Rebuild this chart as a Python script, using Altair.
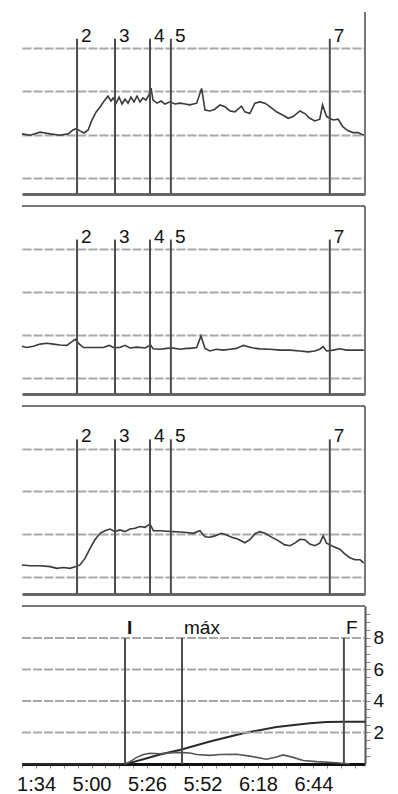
import altair as alt
import pandas as pd

FONT = "Liberation Sans"

# ---------------- data (time in seconds) ----------------
# panel 1 trace
p1_t = [267.4, 271.2, 275.9, 278.2, 280.6, 285.2, 289.0, 291.3, 292.8, 294.6,
        296.5, 298.4, 300.2, 302.1, 304.0, 305.9, 307.7, 309.1, 310.1, 311.5,
        312.9, 314.3, 315.7, 317.1, 318.5, 319.9, 321.3, 322.7, 324.1, 325.5,
        326.9, 327.9, 328.8, 330.7, 332.6, 334.4, 336.8, 339.1, 341.5, 343.8,
        346.1, 349.3, 351.6, 353.2, 355.5, 357.8, 360.2, 362.5, 364.9, 367.2,
        370.3, 371.9, 374.2, 376.6, 378.9, 381.3, 383.6, 386.7, 389.8, 392.2,
        394.5, 397.7, 400.0, 402.3, 404.7, 407.0, 408.3, 410.2, 413.3, 415.6,
        417.9, 420.3, 422.6, 424.9, 427.6]
p1_v = [1.02, 0.99, 1.06, 1.04, 1.02, 0.99, 1.02, 1.11, 1.14, 1.09,
        1.04, 1.11, 1.34, 1.52, 1.64, 1.78, 1.89, 1.78, 1.85, 1.73,
        1.87, 1.71, 1.82, 1.73, 1.87, 1.76, 1.89, 1.76, 1.85, 1.80,
        1.92, 2.08, 1.80, 1.73, 1.78, 1.71, 1.76, 1.71, 1.73, 1.71,
        1.69, 1.73, 2.07, 1.57, 1.55, 1.59, 1.69, 1.65, 1.55, 1.53,
        1.66, 1.53, 1.49, 1.73, 1.76, 1.73, 1.65, 1.53, 1.45, 1.38,
        1.42, 1.55, 1.49, 1.38, 1.32, 1.36, 1.69, 1.42, 1.34, 1.36,
        1.18, 1.09, 1.05, 1.05, 0.99]

# panel 2 trace
p2_t = [267.4, 269.6, 272.7, 275.9, 279.0, 282.1, 285.2, 288.4, 290.7, 292.3,
        294.3, 296.2, 300.8, 305.5, 308.3, 310.2, 313.3, 315.7, 318.0, 321.3,
        325.1, 327.7, 328.9, 332.1, 335.2, 338.3, 341.5, 344.6, 346.1, 349.3,
        351.3, 353.2, 355.5, 358.6, 361.7, 364.9, 368.0, 371.1, 373.4, 375.8,
        378.9, 383.6, 388.3, 393.0, 397.7, 401.5, 404.7, 407.0, 408.6, 410.2,
        413.3, 416.4, 419.5, 422.6, 427.6]
p2_v = [0.74, 0.71, 0.74, 0.79, 0.81, 0.79, 0.77, 0.76, 0.84, 0.90,
        0.79, 0.71, 0.71, 0.71, 0.76, 0.71, 0.71, 0.76, 0.70, 0.72,
        0.70, 0.77, 0.68, 0.67, 0.69, 0.70, 0.67, 0.69, 0.69, 0.71,
        0.98, 0.69, 0.63, 0.67, 0.65, 0.67, 0.69, 0.76, 0.73, 0.70,
        0.68, 0.67, 0.65, 0.65, 0.63, 0.61, 0.63, 0.67, 0.73, 0.63,
        0.65, 0.68, 0.65, 0.65, 0.65]

# panel 3 trace
p3_t = [267.4, 271.2, 275.9, 280.6, 283.7, 286.8, 289.9, 292.3, 294.6, 297.0,
        299.3, 301.6, 304.0, 306.3, 308.7, 311.0, 313.3, 315.7, 318.0, 320.4,
        322.7, 325.1, 327.4, 329.0, 332.1, 335.2, 338.3, 341.5, 344.6, 347.7,
        350.8, 353.2, 355.5, 357.8, 361.0, 363.3, 365.7, 368.8, 371.9, 374.2,
        376.6, 378.9, 381.3, 384.4, 387.5, 390.6, 393.0, 395.3, 397.7, 400.0,
        402.3, 404.7, 407.0, 408.6, 410.2, 413.3, 416.4, 418.7, 421.1, 423.5,
        425.9, 427.6]
p3_v = [0.28, 0.26, 0.26, 0.24, 0.20, 0.22, 0.20, 0.24, 0.28, 0.44,
        0.67, 0.87, 1.02, 1.08, 1.12, 1.06, 1.10, 1.06, 1.12, 1.14,
        1.18, 1.16, 1.24, 1.08, 1.08, 1.07, 1.06, 1.05, 1.04, 1.02,
        1.08, 0.94, 0.93, 0.96, 1.02, 0.98, 0.93, 0.88, 0.80, 0.87,
        1.01, 1.06, 1.02, 0.93, 0.85, 0.75, 0.73, 0.79, 0.88, 0.87,
        0.77, 0.73, 0.79, 0.96, 0.79, 0.71, 0.65, 0.54, 0.45, 0.40,
        0.40, 0.33]

# panel 4: cumulative curve and rate curve
cum_t = [267.4, 315.7, 318.0, 324.3, 332.1, 342.2, 355.5, 371.1, 386.7, 402.3, 410.2, 418.0, 428.2]
cum_v = [0.0, 0.0, 0.07, 0.30, 0.60, 0.92, 1.43, 1.95, 2.35, 2.58, 2.66, 2.68, 2.68]
rate_t = [315.7, 318.0, 321.2, 324.3, 327.4, 332.1, 339.9, 346.1, 349.3, 355.5, 360.2,
          368.0, 374.2, 382.0, 386.7, 389.8, 394.5, 399.2, 405.5, 414.8, 421.1]
rate_v = [0.0, 0.15, 0.42, 0.60, 0.68, 0.65, 0.74, 0.70, 0.60, 0.55, 0.60,
          0.62, 0.50, 0.30, 0.45, 0.58, 0.42, 0.22, 0.15, 0.08, 0.0]

# event markers
events_t = [293.2, 311.0, 327.4, 337.2, 411.7]
events_lbl = ["2", "3", "4", "5", "7"]
p4_events_t = [315.7, 342.4, 418.3]
p4_events_lbl = ["I", "máx", "F"]

# axis labels
x_label_vals = [274, 300, 326, 352, 378, 404]
x_label_txt = ["1:34", "5:00", "5:26", "5:52", "6:18", "6:44"]
y4_labels = [2, 4, 6, 8]

# ---------------- layout ----------------
W = 343
XDOM = [267.4, 428.2]
GRID = [0, 1, 2, 3]
EV_TOP = 3.22

blank = pd.DataFrame({"a": [0]})
LINE_C = "#3a3a3a"
RULE_C = "#4d4d4d"
GRID_C = "#a9a9a9"
BORDER_C = "#777777"


def xscale():
    return alt.Scale(domain=XDOM, nice=False, zero=False)


def ydat(v):
    return alt.YDatum(v, axis=None)


def signal_panel(t, v, ydom, h, top_border, rb_top):
    ys = alt.Scale(domain=ydom, nice=False, zero=False)
    df = pd.DataFrame({"t": t, "v": v})
    line = alt.Chart(df).mark_line(color=LINE_C, strokeWidth=1.6).encode(
        x=alt.X("t:Q", scale=xscale(),
                axis=alt.Axis(labels=False, ticks=False, grid=False, domainColor="#666666",
                              domainWidth=3, title=None)),
        y=alt.Y("v:Q", scale=ys,
                axis=alt.Axis(values=GRID, labels=False, ticks=False, domain=False,
                              gridColor=GRID_C, gridWidth=2, gridDash=[9, 2], title=None)),
    )
    ev = pd.DataFrame({"t": events_t, "lab": events_lbl})
    rules = alt.Chart(ev).mark_rule(color=RULE_C, strokeWidth=2).encode(
        x=alt.X("t:Q", axis=None), y=ydat(EV_TOP), y2=alt.value(h))
    texts = alt.Chart(ev).mark_text(align="left", baseline="alphabetic", dx=4, dy=3,
                                    fontSize=19, font=FONT, color="#111111").encode(
        x=alt.X("t:Q", axis=None), y=ydat(EV_TOP), text="lab:N")
    right = alt.Chart(blank).mark_rule(color=BORDER_C, strokeWidth=2).encode(
        x=alt.value(W), y=alt.value(rb_top), y2=alt.value(h))
    layers = [line, rules, texts, right]
    if top_border:
        layers.append(alt.Chart(blank).mark_rule(color=BORDER_C, strokeWidth=2).encode(
            x=alt.value(0), x2=alt.value(W), y=alt.value(0)))
    return alt.layer(*layers).resolve_axis(x="independent", y="independent").properties(
        width=W, height=h)


p1 = signal_panel(p1_t, p1_v, [-0.37, 3.93], 186, False, 4)
p2 = signal_panel(p2_t, p2_v, [-0.37, 4.0], 188, True, 0)
p3 = signal_panel(p3_t, p3_v, [-0.40, 4.0], 188, True, 0)

# panel 4
H4 = 158
ys4 = alt.Scale(domain=[0, 10.03], nice=False, zero=False)
xt_all = [274 + 6.5 * k for k in range(-1, 24)]
x_expr = "".join(f"datum.value == {v} ? '{l}' : " for v, l in zip(x_label_vals, x_label_txt)) + "''"
y_expr = "".join(f"datum.value == {v} ? '{v}' : " for v in y4_labels) + "''"
yt_all = [0.5 * k for k in range(1, 20)]

cum_df = pd.DataFrame({"t": cum_t, "v": cum_v})
rate_df = pd.DataFrame({"t": rate_t, "v": rate_v})

cum = alt.Chart(cum_df).mark_line(color="#2a2a2a", strokeWidth=2).encode(
    x=alt.X("t:Q", scale=xscale(),
            axis=alt.Axis(values=xt_all, labelExpr=x_expr, tickSize=4, tickColor="#888888",
                          domainColor="#111111", domainWidth=3, labelFontSize=20, labelFont=FONT,
                          labelColor="#111111", labelPadding=6, grid=False, title=None,
                          labelOverlap=False, labelFlush=False)),
    y=alt.Y("v:Q", scale=ys4,
            axis=alt.Axis(orient="right", values=yt_all, labelExpr=y_expr, tickSize=5,
                          tickColor="#888888", domainColor="#555555", domainWidth=2,
                          labelFontSize=19, labelFont=FONT, labelColor="#111111",
                          labelPadding=3, grid=False, title=None, labelOverlap=False,
                          labelFlush=False)),
)
rate = alt.Chart(rate_df).mark_line(color="#555555", strokeWidth=1.6).encode(
    x=alt.X("t:Q", axis=None), y=alt.Y("v:Q", axis=None))
grid4 = alt.Chart(pd.DataFrame({"g": y4_labels})).mark_rule(
    color=GRID_C, strokeWidth=2, strokeDash=[9, 2]).encode(
    y=alt.Y("g:Q", axis=None), x=alt.value(0), x2=alt.value(W))
ev4 = pd.DataFrame({"t": p4_events_t, "lab": p4_events_lbl})
rules4 = alt.Chart(ev4).mark_rule(color=RULE_C, strokeWidth=2).encode(
    x=alt.X("t:Q", axis=None), y=ydat(8), y2=alt.value(H4))
text4 = alt.Chart(ev4).transform_filter("datum.lab !== 'I'").mark_text(
    align="left", baseline="alphabetic", dx=2, dy=-4, fontSize=19, font=FONT,
    color="#111111").encode(x=alt.X("t:Q", axis=None), y=ydat(8), text="lab:N")
text4b = alt.Chart(ev4).transform_filter("datum.lab === 'I'").mark_text(
    align="left", baseline="alphabetic", dx=2, dy=-4, fontSize=19, font=FONT,
    fontWeight="bold", color="#111111").encode(x=alt.X("t:Q", axis=None), y=ydat(8), text="lab:N")
top4 = alt.Chart(blank).mark_rule(color=BORDER_C, strokeWidth=2).encode(
    x=alt.value(0), x2=alt.value(W), y=alt.value(0))

p4 = alt.layer(cum, grid4, rate, rules4, text4, text4b, top4).resolve_axis(
    x="independent", y="independent").properties(width=W, height=H4)

chart = alt.vconcat(p1, p2, p3, p4, spacing=10).resolve_scale(
    x="independent", y="independent").properties(
    padding={"left": 8, "top": 0, "right": 5, "bottom": 0},
    background="white").configure_view(stroke=None)

chart.save("out.html", embed_options={"renderer": "svg", "actions": False})
